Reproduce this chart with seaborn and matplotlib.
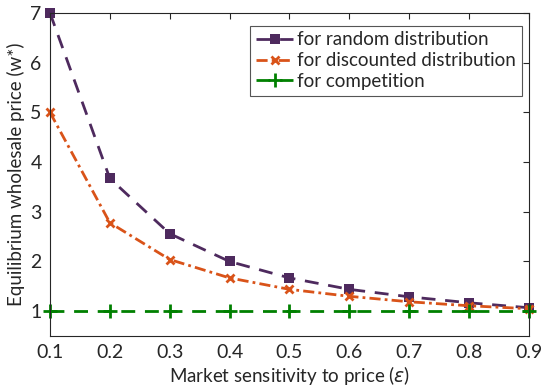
import numpy as np
import pandas as pd
import matplotlib
matplotlib.use("Agg")
import matplotlib.pyplot as plt
import seaborn as sns

# values
eps = [0.1, 0.2, 0.3, 0.4, 0.5, 0.6, 0.7, 0.8, 0.9]
w_random = [7.0, 3.67, 2.56, 2.0, 1.67, 1.44, 1.29, 1.17, 1.07]
w_discounted = [5.0, 2.78, 2.04, 1.67, 1.44, 1.30, 1.19, 1.11, 1.05]
w_competition = [1, 1, 1, 1, 1, 1, 1, 1, 1]
x_ticks = [0.1, 0.2, 0.3, 0.4, 0.5, 0.6, 0.7, 0.8, 0.9]
y_ticks = [1, 2, 3, 4, 5, 6, 7]

sns.set_theme(style="white")
plt.rcParams['font.family'] = ['Lato', 'DejaVu Sans']

fig = plt.figure(figsize=(5.43, 3.89), dpi=100)
ax = fig.add_axes([0.092, 0.136, 0.882, 0.831])

df = pd.DataFrame({'eps': eps, 'random': w_random,
                   'discounted': w_discounted, 'competition': w_competition})

purple = '#4E2A5E'
orange = '#D95319'
green = '#008000'

sns.lineplot(data=df, x='eps', y='random', ax=ax, color=purple,
             linestyle=(0, (5, 3.5)), linewidth=2, marker='s', markersize=7,
             markeredgewidth=0, markeredgecolor=purple, clip_on=False,
             label='for random distribution')
sns.lineplot(data=df, x='eps', y='discounted', ax=ax, color=orange,
             linestyle=(0, (4, 1.5, 1, 1.5)), linewidth=2, marker='x',
             markersize=6, markeredgewidth=2, markeredgecolor=orange,
             clip_on=False, label='for discounted distribution')
sns.lineplot(data=df, x='eps', y='competition', ax=ax, color=green,
             linestyle=(0, (5, 3.5)), linewidth=2, marker='+', markersize=10,
             markeredgewidth=2, markeredgecolor=green, clip_on=False,
             label='for competition')

ax.set_xlim(0.1, 0.9)
ax.set_ylim(0.5, 7)
ax.set_xticks(x_ticks)
ax.set_xticklabels([f'{v:.1f}' for v in x_ticks])
ax.set_yticks(y_ticks)
ax.tick_params(direction='in', length=4, width=0.8, colors='#262626',
               labelsize=14, top=True, right=True, pad=6)
for s in ax.spines.values():
    s.set_color('#262626')
    s.set_linewidth(0.8)
    s.set_visible(True)

ax.set_xlabel('Market sensitivity to price ($\\epsilon$)', fontsize=13.5, color='#262626', labelpad=2)
ax.set_ylabel('Equilibrium wholesale price (w*)', fontsize=13.5, color='#262626', labelpad=4)

leg = ax.legend(loc='upper right', bbox_to_anchor=(0.985, 0.96), fontsize=13.5,
                handlelength=2.0, handletextpad=0.2, borderpad=0.3,
                labelspacing=0.2, fancybox=False, framealpha=1,
                edgecolor='#555555', borderaxespad=0)
leg.get_frame().set_linewidth(0.8)

fig.savefig('out.png', dpi=100)
